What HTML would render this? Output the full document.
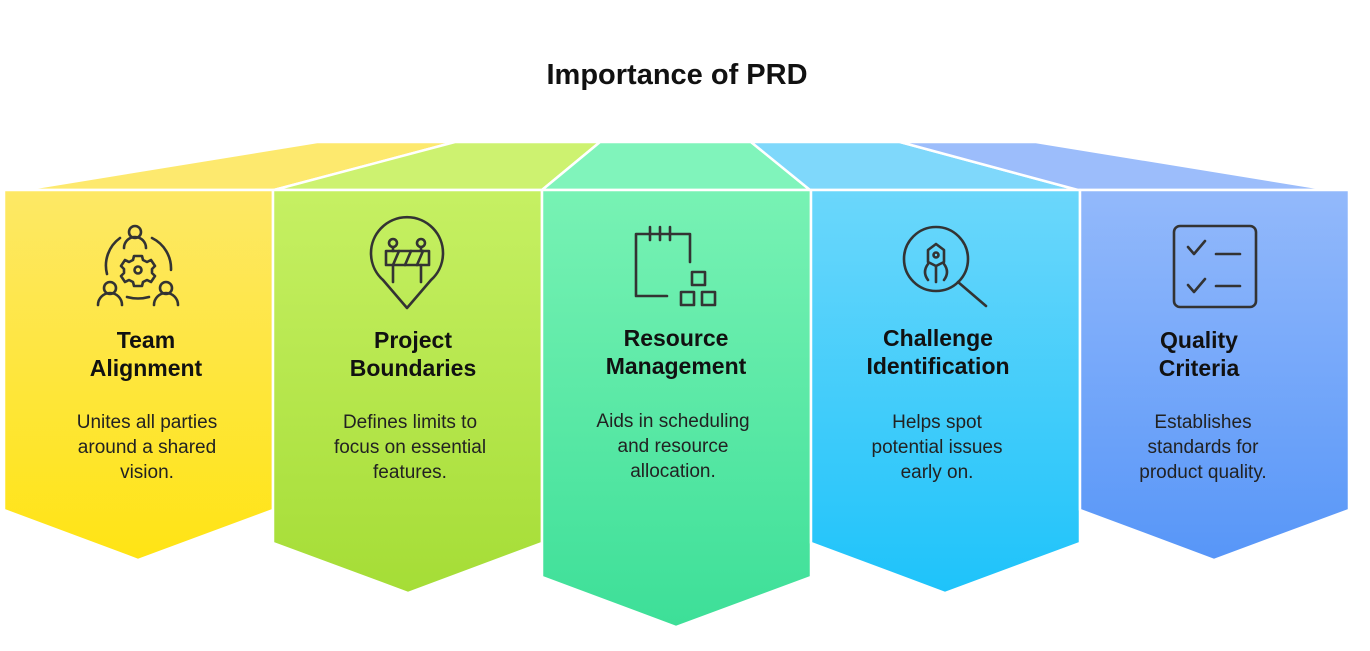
<!DOCTYPE html>
<html><head><meta charset="utf-8"><style>
html,body{margin:0;padding:0;background:#fff;}
body{width:1370px;height:651px;position:relative;overflow:hidden;font-family:"Liberation Sans",sans-serif;}
svg{position:absolute;left:0;top:0;}
</style></head><body>
<svg width="1370" height="651" viewBox="0 0 1370 651">
<defs>
<linearGradient id="gy" x1="0" y1="0" x2="0" y2="1"><stop offset="0" stop-color="#fde866"/><stop offset="1" stop-color="#ffe414"/></linearGradient>
<linearGradient id="gg" x1="0" y1="0" x2="0" y2="1"><stop offset="0" stop-color="#c6f063"/><stop offset="1" stop-color="#a5dd36"/></linearGradient>
<linearGradient id="gt" x1="0" y1="0" x2="0" y2="1"><stop offset="0" stop-color="#78f2b4"/><stop offset="1" stop-color="#3ddf98"/></linearGradient>
<linearGradient id="gb" x1="0" y1="0" x2="0" y2="1"><stop offset="0" stop-color="#6bd7fb"/><stop offset="1" stop-color="#1ec3fa"/></linearGradient>
<linearGradient id="gp" x1="0" y1="0" x2="0" y2="1"><stop offset="0" stop-color="#93b9fb"/><stop offset="1" stop-color="#5796f8"/></linearGradient>
</defs>
<g stroke="#fff" stroke-width="2.5" stroke-linejoin="round">
<polygon points="22,190 317,142 455,142 274,190" fill="#fde96e"/>
<polygon points="274,190 455,142 600,142 542,190" fill="#cdf270"/>
<polygon points="542,190 600,142 751,142 810,190" fill="#80f4bb"/>
<polygon points="810,190 751,142 900,142 1078,190" fill="#7fd8fb"/>
<polygon points="1078,190 900,142 1036,142 1331,190" fill="#9cbdfb"/>
<polygon points="4,190 273,190 273,510 138,560 4,510" fill="url(#gy)"/>
<polygon points="273,190 542,190 542,543 408,593 273,543" fill="url(#gg)"/>
<polygon points="542,190 811,190 811,577 676,627 542,577" fill="url(#gt)"/>
<polygon points="811,190 1080,190 1080,543 945,593 811,543" fill="url(#gb)"/>
<polygon points="1080,190 1349,190 1349,510 1214,560 1080,510" fill="url(#gp)"/>
</g>
<g fill="none" stroke="#333" stroke-width="2.6" stroke-linecap="round" stroke-linejoin="round">
<!-- team -->
<circle cx="135" cy="232" r="6"/><path d="M124,248 a11,11 0 0 1 22,0"/>
<circle cx="110" cy="288" r="6"/><path d="M98,305 a12,12 0 0 1 24,0"/>
<circle cx="166" cy="288" r="6"/><path d="M154,305 a12,12 0 0 1 24,0"/>
<path d="M107,274 A34,34 0 0 1 120,238"/><path d="M152,238 A34,34 0 0 1 171,270"/><path d="M127,297 Q138,300 149,297"/>
<circle cx="138" cy="270" r="3.5"/>
<path d="M134,256 h8 l1,4 4,2 4,-2 4,6 -3,3 v4 l3,3 -4,6 -4,-2 -4,2 -1,4 h-8 l-1,-4 -4,-2 -4,2 -4,-6 3,-3 v-4 l-3,-3 4,-6 4,2 4,-2z"/>
<!-- pin -->
<path d="M407,308 L383,280 A36,36 0 1 1 431,280 Z"/>
<circle cx="393" cy="243" r="4"/><circle cx="421" cy="243" r="4"/>
<rect x="386" y="251" width="43" height="14"/><path d="M393,265 L399,251 M405,265 L411,251 M417,265 L423,251"/>
<path d="M393,265 V282 M421,265 V282 M393,247 V251 M421,247 V251"/>
<!-- calendar -->
<path d="M667,296 H636 V234 H690 V262"/><path d="M650,227 V240 M660,227 V240 M670,227 V240"/>
<rect x="692" y="272" width="13" height="13"/><rect x="681" y="292" width="13" height="13"/><rect x="702" y="292" width="13" height="13"/>
<!-- magnifier -->
<circle cx="936" cy="259" r="32"/><path d="M958,282 L986,306"/>
<path d="M928,250 L936,244 944,250 V262 L936,266 928,262Z"/><circle cx="936" cy="255" r="2.5"/>
<path d="M936,266 V282 M928,264 Q922,272 928,280 M944,264 Q950,272 944,280"/>
<!-- checklist -->
<rect x="1174" y="226" width="82" height="81" rx="6"/>
<path d="M1188,247 l6,7 11,-13 M1216,254 H1240 M1188,285 l6,7 11,-13 M1216,286 H1240"/>
</g>
<g font-family="Liberation Sans, sans-serif" text-anchor="middle">
<text x="677" y="84" font-size="29" font-weight="bold" fill="#111">Importance of PRD</text>
<g font-size="23" font-weight="bold" fill="#111">
<text x="146" y="348">Team</text><text x="146" y="376">Alignment</text>
<text x="413" y="348">Project</text><text x="413" y="376">Boundaries</text>
<text x="676" y="346">Resource</text><text x="676" y="374">Management</text>
<text x="938" y="346">Challenge</text><text x="938" y="374">Identification</text>
<text x="1199" y="348">Quality</text><text x="1199" y="376">Criteria</text>
</g>
<g font-size="19" fill="#222">
<text x="147" y="428">Unites all parties</text><text x="147" y="453">around a shared</text><text x="147" y="478">vision.</text>
<text x="410" y="428">Defines limits to</text><text x="410" y="453">focus on essential</text><text x="410" y="478">features.</text>
<text x="673" y="427">Aids in scheduling</text><text x="673" y="452">and resource</text><text x="673" y="477">allocation.</text>
<text x="937" y="428">Helps spot</text><text x="937" y="453">potential issues</text><text x="937" y="478">early on.</text>
<text x="1203" y="428">Establishes</text><text x="1203" y="453">standards for</text><text x="1203" y="478">product quality.</text>
</g>
</g>
</svg>
</body></html>
